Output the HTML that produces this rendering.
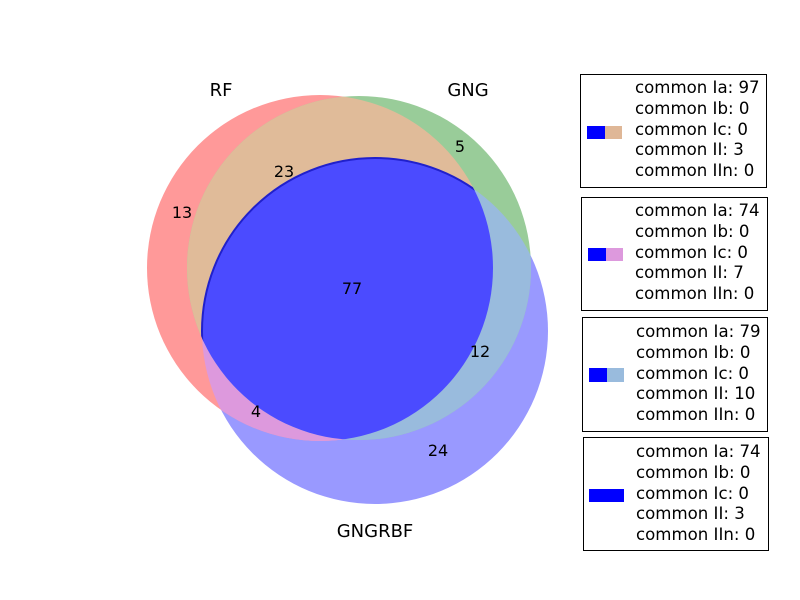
<!DOCTYPE html>
<html><head><meta charset="utf-8"><style>
html,body{margin:0;padding:0;background:#fff;}
svg{display:block;}
text{font-family:"DejaVu Sans","Liberation Sans",sans-serif;}
</style></head><body>
<svg width="800" height="600" viewBox="0 0 800 600" xmlns="http://www.w3.org/2000/svg">
<defs>
<clipPath id="cA"><circle cx="320" cy="268" r="173"/></clipPath>
<clipPath id="cB"><circle cx="359" cy="268" r="172"/></clipPath>
</defs>
<rect width="800" height="600" fill="#fff"/>
<circle cx="375" cy="331" r="173" fill="#9999ff"/>
<circle cx="320" cy="268" r="173" fill="#ff9999"/>
<circle cx="359" cy="268" r="172" fill="#99cc99"/>
<g clip-path="url(#cA)"><circle cx="359" cy="268" r="172" fill="#e0bb99"/></g>
<g clip-path="url(#cA)"><circle cx="375" cy="331" r="173" fill="#dd99dd"/></g>
<g clip-path="url(#cB)"><circle cx="375" cy="331" r="173" fill="#99bbdd"/></g>
<g clip-path="url(#cA)"><g clip-path="url(#cB)"><circle cx="375" cy="331" r="173" fill="#4b4bff" stroke="#2020cc" stroke-width="2"/></g></g>
<g font-size="18" fill="#000" text-anchor="middle">
<text x="221" y="96">RF</text>
<text x="468" y="96">GNG</text>
<text x="375" y="537">GNGRBF</text>
</g>
<g font-size="16" fill="#000" text-anchor="middle">
<text x="182" y="218">13</text>
<text x="284" y="177">23</text>
<text x="460" y="152">5</text>
<text x="352" y="294">77</text>
<text x="480" y="357">12</text>
<text x="256" y="417">4</text>
<text x="438" y="456">24</text>
</g>
<g fill="#fff" stroke="#000" stroke-width="1">
<rect x="580.5" y="74.5" width="186" height="113"/>
<rect x="581.5" y="197.5" width="186" height="113"/>
<rect x="582.5" y="317.5" width="185" height="114"/>
<rect x="583.5" y="437.5" width="185" height="113"/>
</g>
<rect x="587" y="126" width="18" height="13" fill="#0000ff"/><rect x="605" y="126" width="17" height="13" fill="#dfb797"/>
<rect x="588" y="248" width="18" height="13" fill="#0000ff"/><rect x="606" y="248" width="17" height="13" fill="#dd99dd"/>
<rect x="589" y="368" width="18" height="14" fill="#0000ff"/><rect x="607" y="368" width="17" height="14" fill="#99bbdd"/>
<rect x="589" y="489" width="35" height="13" fill="#0000ff"/>
<g font-size="16.6" fill="#000">
<text x="635" y="93">common Ia: 97</text><text x="635" y="114">common Ib: 0</text><text x="635" y="135">common Ic: 0</text><text x="635" y="155">common II: 3</text><text x="635" y="176">common IIn: 0</text>
<text x="635" y="216">common Ia: 74</text><text x="635" y="237">common Ib: 0</text><text x="635" y="258">common Ic: 0</text><text x="635" y="278">common II: 7</text><text x="635" y="299">common IIn: 0</text>
<text x="636" y="337">common Ia: 79</text><text x="636" y="358">common Ib: 0</text><text x="636" y="379">common Ic: 0</text><text x="636" y="399">common II: 10</text><text x="636" y="420">common IIn: 0</text>
<text x="636" y="457">common Ia: 74</text><text x="636" y="478">common Ib: 0</text><text x="636" y="499">common Ic: 0</text><text x="636" y="519">common II: 3</text><text x="636" y="540">common IIn: 0</text>
</g>
</svg>
</body></html>
